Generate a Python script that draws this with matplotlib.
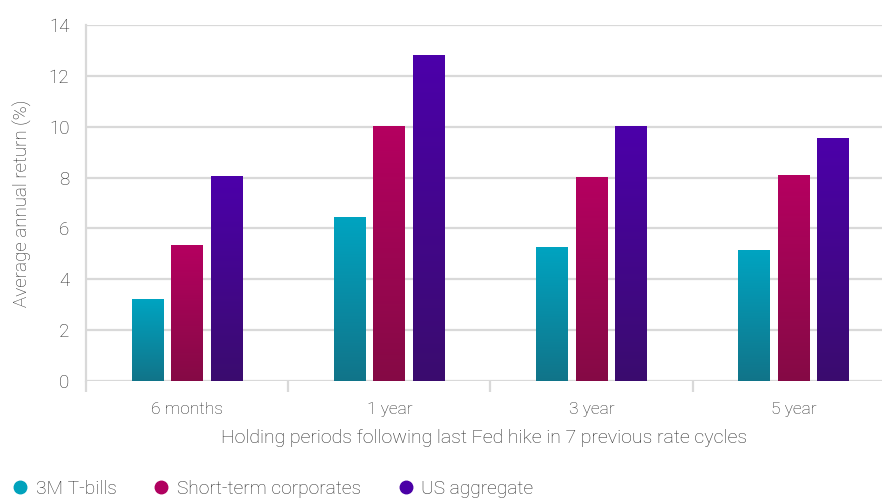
import matplotlib
matplotlib.use("Agg")
import matplotlib.pyplot as plt
import numpy as np
from matplotlib.colors import LinearSegmentedColormap
from matplotlib.lines import Line2D

plt.rcParams['font.family'] = ['Roboto', 'DejaVu Sans']

categories = ["6 months", "1 year", "3 year", "5 year"]
series_names = ["3M T-bills", "Short-term corporates", "US aggregate"]
tbills = [3.22, 6.45, 5.27, 5.15]
corporates = [5.35, 10.03, 8.02, 8.10]
aggregate = [8.06, 12.82, 10.03, 9.56]
yticks = [0, 2, 4, 6, 8, 10, 12, 14]

grad_colors = [("#117489", "#00A4C1"), ("#850A45", "#B50060"), ("#3A0C6E", "#4C00AA")]
legend_colors = ["#00A2BC", "#B0005F", "#4A00A6"]
text_color = "#2b2b2b"
grid_color = "#D9D9D9"

fig = plt.figure(figsize=(8.82, 4.99), dpi=100)
ax = fig.add_axes([86/882, 1-381/499, 1-86/882, (381-25)/499])

x = np.arange(len(categories))
w = 0.158
step = 0.195
for i, (vals, (c0, c1)) in enumerate(zip([tbills, corporates, aggregate], grad_colors)):
    bars = ax.bar(x + (i-1)*step, vals, width=w, color="none", zorder=3)
    cmap = LinearSegmentedColormap.from_list(f"g{i}", [c0, c1])
    grad = np.linspace(0, 1, 256).reshape(-1, 1)
    for b in bars:
        bx, by = b.get_x(), b.get_y()
        bw, bh = b.get_width(), b.get_height()
        im = ax.imshow(grad, cmap=cmap, origin="lower", aspect="auto",
                       extent=[bx, bx+bw, by, by+bh], zorder=3)
        im.set_clip_path(b)

ax.set_xlim(-0.5, 3.5 - 13/202.5)
ax.set_ylim(0, 14)
ax.set_yticks(yticks)
ax.set_yticklabels([str(v) for v in yticks])
ax.yaxis.grid(True, color=grid_color, linewidth=1.6, zorder=0)
ax.set_axisbelow(True)
for s in ["top", "right", "bottom"]:
    ax.spines[s].set_visible(False)
ax.spines["left"].set_color(grid_color)
ax.spines["left"].set_linewidth(1.6)

ax.set_xticks([-0.5, 0.5, 1.5, 2.5])
ax.set_xticklabels([])
ax.tick_params(axis="x", which="major", length=8, width=1.6, color=grid_color)
ax.set_xticks(x, minor=True)
ax.set_xticklabels(categories, minor=True)
ax.tick_params(axis="x", which="minor", length=0, pad=15, labelsize=12.5, labelcolor=text_color)
ax.tick_params(axis="y", length=0, pad=12, labelsize=13.5, labelcolor=text_color)
for lbl in ax.get_xticklabels(minor=True) + ax.get_yticklabels():
    lbl.set_fontweight("light")

ax.set_xlabel("Holding periods following last Fed hike in 7 previous rate cycles",
              fontsize=14, color=text_color, fontweight="light", labelpad=9)
ax.set_ylabel("Average annual return (%)", fontsize=13.5, color=text_color,
              fontweight="light", labelpad=12)

handles = [Line2D([0], [0], marker="o", linestyle="none", markersize=9,
                  markerfacecolor=c, markeredgecolor=c) for c in legend_colors]
leg = fig.legend(handles, series_names, loc="center left", bbox_to_anchor=(0.012, 1-489/499),
                 ncol=3, frameon=False, fontsize=13.8, handletextpad=0.3,
                 columnspacing=1.85, borderaxespad=0, borderpad=0, handlelength=1.0)
for t in leg.get_texts():
    t.set_color(text_color)
    t.set_fontweight("light")

fig.savefig("out.png", dpi=100)
